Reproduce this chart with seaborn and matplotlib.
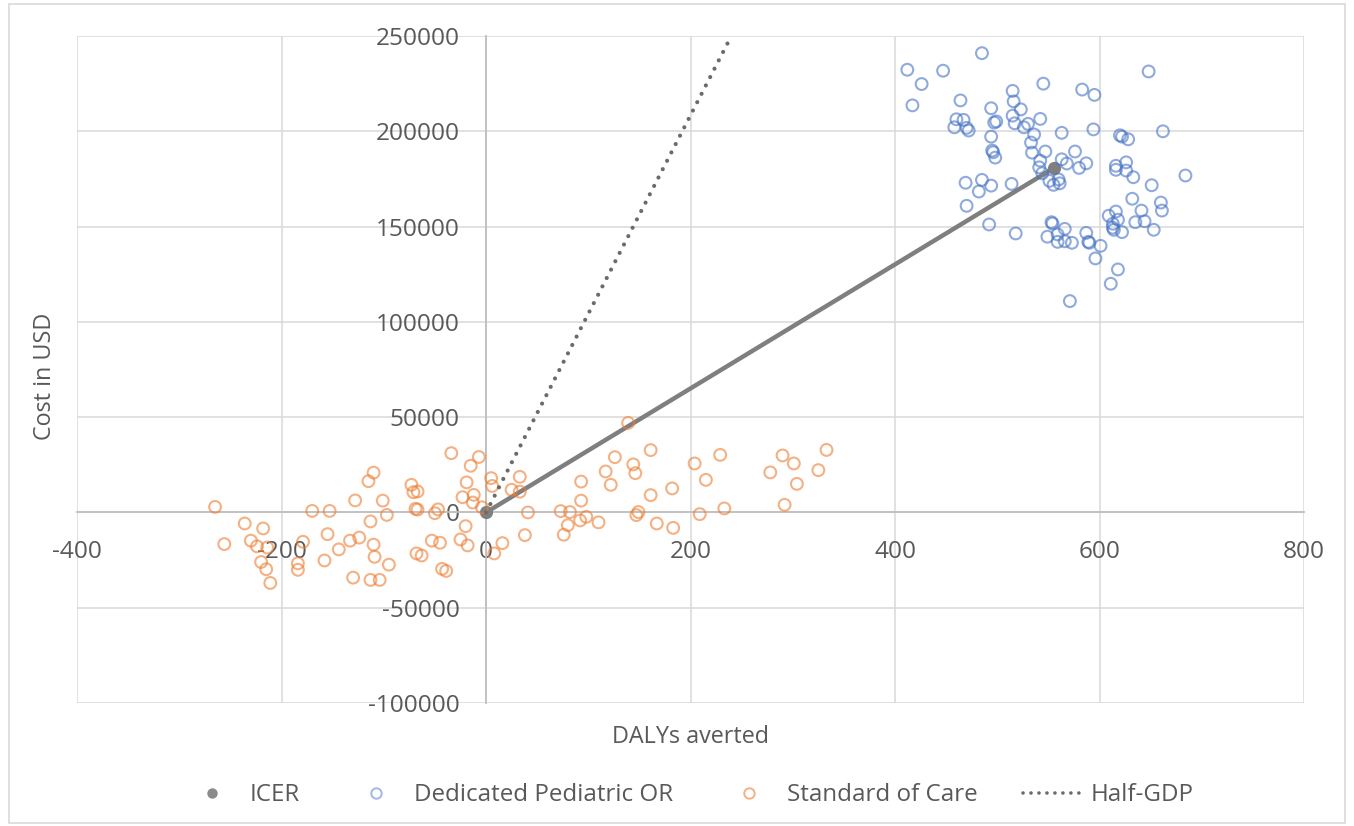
import pandas as pd
import matplotlib
matplotlib.use('Agg')
import matplotlib.pyplot as plt
import seaborn as sns
from matplotlib.lines import Line2D
from matplotlib.patches import Rectangle

# Dedicated Pediatric OR (simulated ICER points)
or_dalys = [485, 412, 447, 648, 426, 545, 583, 595, 515, 417, 464, 516, 494, 523, 515, 542,
            460, 467, 499, 497, 517, 530, 458, 470, 472, 526, 536, 563, 594, 620, 622, 628,
            662, 494, 533, 495, 496, 498, 534, 547, 576, 563, 568, 587, 580, 542, 541, 544,
            551, 555, 561, 560, 616, 626, 616, 626, 633, 651, 684, 469, 485, 482, 494, 514,
            470, 632, 660, 661, 641, 616, 609, 618, 613, 613, 614, 622, 635, 644, 653, 492,
            518, 553, 554, 566, 549, 559, 559, 566, 573, 587, 589, 590, 601, 596, 618, 611, 571]
or_cost = [241000, 232300, 231800, 231400, 224800, 225000, 221900, 219100, 221200, 213600,
           216200, 215700, 212100, 211500, 208200, 206500, 206300, 206000, 205200, 204600,
           204200, 203900, 202100, 201800, 200400, 202100, 198300, 199200, 201000, 197900,
           197200, 195800, 200000, 197200, 194100, 189900, 189000, 186200, 188800, 189400,
           189400, 185300, 183100, 183200, 180800, 184600, 181100, 178000, 174000, 171900,
           172700, 174700, 181900, 183700, 179800, 179400, 175900, 171700, 176800, 173000,
           174500, 168400, 171500, 172400, 160900, 164600, 162600, 158400, 158400, 157900,
           155700, 153600, 151500, 149400, 148300, 147100, 152300, 152800, 148300, 151100,
           146400, 152300, 151600, 148800, 144700, 145900, 142000, 142300, 141500, 146700,
           142000, 141500, 139900, 133300, 127500, 120000, 110900]

# Standard of Care
soc_dalys = [-265, -256, -236, -218, -230, -224, -214, -220, -215, -211, -179, -184, -184,
             -170, -153, -155, -158, -144, -133, -124, -130, -128, -113, -115, -110, -101,
             -97, -110, -109, -95, -113, -104, -73, -71, -67, -69, -67, -50, -47, -53, -45,
             -68, -63, -43, -39, -34, -7, -15, 5, 6, -19, -23, -12, -13, -4, -20, -25, -18,
             8, 16, 33, 25, 33, 41, 38, 73, 82, 92, 98, 80, 76, 93, 93, 110, 117, 122, 126,
             139, 144, 146, 147, 149, 161, 161, 167, 182, 183, 204, 209, 215, 229, 233, 278,
             290, 292, 301, 304, 325, 333]
soc_cost = [2900, -16600, -5800, -8400, -14800, -17800, -18400, -26000, -29800, -37000,
            -15400, -26700, -30100, 800, 800, -11400, -25200, -19400, -14800, -13200, -34200,
            6300, -4700, 16400, 20900, 6200, -1300, -16900, -23300, -27400, -35400, -35400,
            14500, 10600, 11000, 1900, 1500, -400, 1600, -14800, -15900, -21500, -22600,
            -29600, -30700, 31100, 29100, 24500, 18000, 13900, 15800, 8000, 9200, 5200, 2700,
            -7200, -14200, -17300, -21500, -16100, 18700, 11900, 10900, 0, -11900, 700, 200,
            -4200, -2300, -6700, -11700, 16200, 6200, -5200, 21500, 14500, 29000, 47000,
            25200, 20600, -1400, 200, 32700, 9100, -5800, 12600, -8100, 25700, -900, 17100,
            30200, 2100, 21000, 29900, 4000, 25700, 15000, 22200, 32800]

# ICER segment and half-GDP threshold
icer_dalys = [0, 555]
icer_cost = [0, 180600]
gdp_dalys = [0, 237]
gdp_cost = [0, 247000]

x_ticks = list(range(-400, 801, 200))
y_ticks = list(range(-100000, 250001, 50000))

sns.set_style('white')
plt.rcParams['font.family'] = ['Open Sans', 'DejaVu Sans']
plt.rcParams['axes.unicode_minus'] = False

txt = '#595959'
grey = '#7f7f7f'
dots = '#6b6b6b'
blue = '#4472C4'
orange = '#ED7D31'

fig = plt.figure(figsize=(13.54, 8.26), dpi=100)
ax = fig.add_axes([0.0569, 0.1489, 0.9062, 0.8075])

icer_df = pd.DataFrame({'DALYs': icer_dalys, 'Cost': icer_cost})
gdp_df = pd.DataFrame({'DALYs': gdp_dalys, 'Cost': gdp_cost})
or_df = pd.DataFrame({'DALYs': or_dalys, 'Cost': or_cost})
soc_df = pd.DataFrame({'DALYs': soc_dalys, 'Cost': soc_cost})

sns.lineplot(data=icer_df, x='DALYs', y='Cost', sort=False, estimator=None, color=grey,
             lw=3.2, marker='o', markersize=9.5, markeredgewidth=0, ax=ax, zorder=3)
sns.scatterplot(data=or_df, x='DALYs', y='Cost', marker='o', s=72, facecolors='none',
                edgecolor=blue, linewidth=1.5, alpha=0.6, ax=ax, zorder=4, legend=False)
sns.scatterplot(data=soc_df, x='DALYs', y='Cost', marker='o', s=72, facecolors='none',
                edgecolor=orange, linewidth=1.5, alpha=0.6, ax=ax, zorder=4, legend=False)
sns.lineplot(data=gdp_df, x='DALYs', y='Cost', sort=False, estimator=None, color=dots,
             lw=3.0, linestyle=(0, (0.01, 2.25)), dash_capstyle='round', ax=ax, zorder=5)

ax.set_xlim(-400, 800)
ax.set_ylim(-100000, 250000)
ax.set_xticks(x_ticks)
ax.set_yticks(y_ticks)
ax.grid(True, color='#d9d9d9', lw=1.1)
ax.set_axisbelow(True)

for s in ['top', 'right']:
    ax.spines[s].set_visible(False)
ax.spines['left'].set_position(('data', 0))
ax.spines['bottom'].set_position(('data', 0))
for s in ['left', 'bottom']:
    ax.spines[s].set_color('#bfbfbf')
    ax.spines[s].set_linewidth(1.3)
    ax.spines[s].set_zorder(2)

ax.tick_params(axis='both', length=0, labelsize=17.6, labelcolor=txt)
ax.tick_params(axis='x', pad=20)
ax.tick_params(axis='y', pad=19)

ax.set_xlabel('DALYs averted', fontsize=16.8, color=txt)
ax.set_ylabel('Cost in USD', fontsize=16.8, color=txt)
ax.xaxis.set_label_coords(0.5, -0.033)
ax.yaxis.set_label_coords(-0.0163, 0.489)

handles = [
    Line2D([], [], color=grey, marker='o', ls='none', markersize=7.5, markeredgewidth=0, alpha=0.9),
    Line2D([], [], color=blue, marker='o', ls='none', markersize=7.5, mfc='none', mew=1.4, alpha=0.5),
    Line2D([], [], color=orange, marker='o', ls='none', markersize=7.5, mfc='none', mew=1.4, alpha=0.6),
    Line2D([], [], color=dots, lw=2.6, linestyle=(0, (0.01, 2.2)), dash_capstyle='round'),
]
labels = ['ICER', 'Dedicated Pediatric OR', 'Standard of Care', 'Half-GDP']
leg = fig.legend(handles, labels, loc='center', bbox_to_anchor=(0.508, 0.0375), ncol=4,
                 frameon=False, fontsize=17.4, handlelength=2.48, handletextpad=0.33,
                 columnspacing=1.9)
for t in leg.get_texts():
    t.set_color(txt)

fig.patches.append(Rectangle((0.007, 0.004), 0.986, 0.991, transform=fig.transFigure,
                             fill=False, edgecolor='#d9d9d9', lw=1.2))

fig.savefig('out.png', dpi=100)
